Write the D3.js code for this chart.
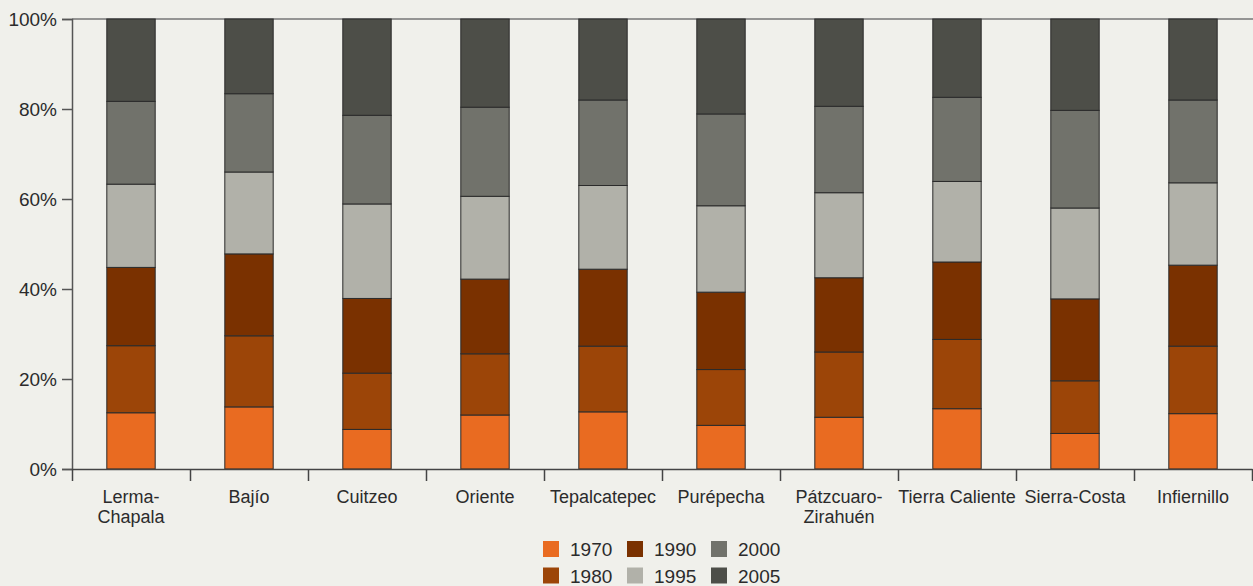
<!DOCTYPE html>
<html>
<head>
<meta charset="utf-8">
<script src="https://cdn.jsdelivr.net/npm/d3@7"></script>
<style>
  body { margin: 0; background: #f0f0eb; }
  svg { display: block; font-family: "Liberation Sans", Arial, sans-serif; }
  text { fill: #2b2b2b; }
</style>
</head>
<body>
<svg></svg>
<script>
var width = 1253;
var height = 586;

// regiones
var regions = ["Lerma-Chapala", "Bajío", "Cuitzeo", "Oriente", "Tepalcatepec",
  "Purépecha", "Pátzcuaro-Zirahuén", "Tierra Caliente", "Sierra-Costa", "Infiernillo"];
// labels under the axis (split in two lines where needed)
var regionLabels = [["Lerma-", "Chapala"], ["Bajío"], ["Cuitzeo"], ["Oriente"], ["Tepalcatepec"],
  ["Purépecha"], ["Pátzcuaro-", "Zirahuén"], ["Tierra Caliente"], ["Sierra-Costa"], ["Infiernillo"]];

var years = ["1970", "1980", "1990", "1995", "2000", "2005"];

// percentage share of each year, per region (same order as regions)
var v1970 = [12.5, 13.8, 8.8, 12.0, 12.7, 9.7, 11.5, 13.4, 7.9, 12.3];
var v1980 = [14.9, 15.8, 12.5, 13.6, 14.6, 12.4, 14.5, 15.4, 11.7, 15.0];
var v1990 = [17.4, 18.2, 16.6, 16.6, 17.1, 17.2, 16.5, 17.2, 18.2, 18.0];
var v1995 = [18.5, 18.2, 21.0, 18.4, 18.6, 19.2, 18.9, 17.9, 20.2, 18.3];
var v2000 = [18.4, 17.4, 19.7, 19.8, 19.0, 20.4, 19.2, 18.7, 21.7, 18.4];
var v2005 = [18.3, 16.6, 21.4, 19.6, 18.0, 21.1, 19.4, 17.4, 20.3, 18.0];

var yTicks = [0, 20, 40, 60, 80, 100];

var colors = ["#e96b21", "#9c4508", "#7a3100", "#b1b1a9", "#71726b", "#4d4e48"];

var series = [v1970, v1980, v1990, v1995, v2000, v2005];
var data = regions.map(function(r, i) {
  var row = { region: r };
  years.forEach(function(y, k) { row[y] = series[k][i]; });
  return row;
});

var margin = { top: 19, right: 1, bottom: 117, left: 72 };

var svg = d3.select("svg")
  .attr("width", width)
  .attr("height", height);

var x = d3.scaleBand()
  .domain(regions)
  .range([margin.left, width - margin.right])
  .paddingInner(0.59)
  .paddingOuter(0.295);

var y = d3.scaleLinear()
  .domain([0, 100])
  .range([height - margin.bottom, margin.top]);

var color = d3.scaleOrdinal().domain(years).range(colors);

// top border line
svg.append("line")
  .attr("x1", margin.left).attr("x2", width)
  .attr("y1", y(100)).attr("y2", y(100))
  .attr("stroke", "#777").attr("stroke-width", 1.5);

var stack = d3.stack()
  .keys(years)
  .offset(d3.stackOffsetExpand);

var layers = svg.selectAll(".layer")
  .data(stack(data))
  .enter().append("g")
    .attr("class", "layer")
    .attr("fill", function(d) { return color(d.key); });

layers.selectAll("rect")
  .data(function(d) { return d; })
  .enter().append("rect")
    .attr("x", function(d) { return x(d.data.region); })
    .attr("width", x.bandwidth())
    .attr("y", function(d) { return y(d[1] * 100); })
    .attr("height", function(d) { return y(d[0] * 100) - y(d[1] * 100); })
    .attr("stroke", "#2b2b2b")
    .attr("stroke-width", 1);

// y axis
var yAxis = svg.append("g")
  .attr("transform", "translate(" + margin.left + ",0)")
  .call(d3.axisLeft(y)
    .tickValues(yTicks)
    .tickSize(10)
    .tickPadding(5)
    .tickFormat(function(d) { return d + "%"; }));
yAxis.select(".domain").attr("stroke", "#555").attr("stroke-width", 1.5);
yAxis.selectAll(".tick line").attr("stroke", "#555").attr("stroke-width", 1.5);
yAxis.selectAll(".tick text")
  .attr("fill", "#2b2b2b")
  .style("font-size", "19px")
  .style("font-family", "'Liberation Sans', Arial, sans-serif");

// x axis: ticks on the band boundaries
var xEdge = d3.scaleLinear()
  .domain([0, regions.length])
  .range([margin.left, width - margin.right]);

var xAxis = svg.append("g")
  .attr("transform", "translate(0," + y(0) + ")")
  .call(d3.axisBottom(xEdge)
    .tickValues(d3.range(regions.length + 1))
    .tickSize(12)
    .tickSizeOuter(0)
    .tickFormat(""));
xAxis.select(".domain").attr("stroke", "#444").attr("stroke-width", 1.5);
xAxis.selectAll(".tick line").attr("stroke", "#444").attr("stroke-width", 1.5);

var labels = svg.selectAll(".xlabel")
  .data(regions)
  .enter().append("text")
    .attr("class", "xlabel")
    .attr("text-anchor", "middle")
    .attr("x", function(d) { return x(d) + x.bandwidth() / 2; })
    .attr("y", y(0) + 34)
    .style("font-size", "18px");

labels.selectAll("tspan")
  .data(function(d, i) { return regionLabels[i]; })
  .enter().append("tspan")
    .attr("x", function() { var p = this.parentNode; return p.getAttribute("x"); })
    .attr("dy", function(d, i) { return i === 0 ? 0 : 20; })
    .text(function(d) { return d; });

// legend, filled column by column
var legend = svg.selectAll(".legend")
  .data(years)
  .enter().append("g")
    .attr("class", "legend")
    .attr("transform", function(d, i) {
      var col = Math.floor(i / 2), row = i % 2;
      return "translate(" + (543 + col * 84) + "," + (541 + row * 26.5) + ")";
    });

legend.append("rect")
  .attr("width", 16)
  .attr("height", 16)
  .attr("fill", function(d) { return color(d); });

legend.append("text")
  .attr("x", 27)
  .attr("y", 15)
  .style("font-size", "19px")
  .text(function(d) { return d; });
</script>
</body>
</html>
